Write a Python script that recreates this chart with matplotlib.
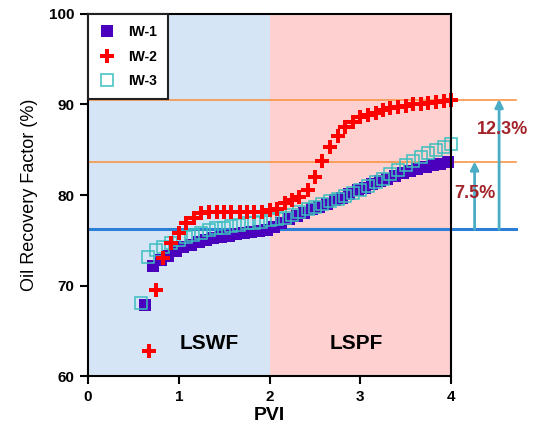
import matplotlib
matplotlib.use('Agg')
import matplotlib.pyplot as plt

plt.rcParams['font.family'] = ['Liberation Sans', 'DejaVu Sans']

# ---- data ----
iw1_x = [0.63, 0.72, 0.80, 0.88, 0.97, 1.05, 1.13, 1.22, 1.30, 1.38, 1.47, 1.55, 1.63, 1.72,
         1.80, 1.88, 1.97, 2.05, 2.13, 2.22, 2.30, 2.38, 2.47, 2.55, 2.63, 2.72, 2.80, 2.88,
         2.97, 3.05, 3.13, 3.22, 3.30, 3.38, 3.47, 3.55, 3.63, 3.72, 3.80, 3.88, 3.97]
iw1_y = [67.8, 72.2, 72.8, 73.3, 73.8, 74.2, 74.5, 74.8, 75.0, 75.2, 75.35, 75.5, 75.65, 75.8,
         75.9, 76.0, 76.1, 76.5, 76.9, 77.3, 77.7, 78.0, 78.4, 78.7, 79.0, 79.4, 79.7, 80.1,
         80.5, 80.8, 81.2, 81.5, 81.8, 82.1, 82.4, 82.7, 82.9, 83.1, 83.3, 83.45, 83.6]

iw2_x = [0.67, 0.75, 0.83, 0.92, 1.00, 1.08, 1.17, 1.25, 1.33, 1.42, 1.50, 1.58, 1.67, 1.75,
         1.83, 1.92, 2.00, 2.08, 2.17, 2.25, 2.33, 2.42, 2.50, 2.58, 2.67, 2.75, 2.83, 2.92,
         3.00, 3.08, 3.17, 3.25, 3.33, 3.42, 3.50, 3.58, 3.67, 3.75, 3.83, 3.92, 4.00]
iw2_y = [62.8, 69.5, 73.0, 74.7, 75.8, 76.9, 77.5, 78.0, 78.1, 78.1, 78.1, 78.1, 78.1, 78.1,
         78.1, 78.15, 78.3, 78.5, 79.1, 79.4, 79.8, 80.55, 82.0, 83.8, 85.3, 86.5, 87.55, 88.1,
         88.6, 88.85, 89.1, 89.4, 89.6, 89.75, 89.87, 90.0, 90.1, 90.2, 90.3, 90.4, 90.5]

iw3_x = [0.58, 0.66, 0.75, 0.83, 0.91, 1.00, 1.08, 1.16, 1.25, 1.33, 1.41, 1.50, 1.58, 1.66,
         1.75, 1.83, 1.91, 2.00, 2.08, 2.17, 2.25, 2.33, 2.42, 2.50, 2.58, 2.67, 2.75, 2.83,
         2.92, 3.00, 3.08, 3.17, 3.25, 3.33, 3.42, 3.50, 3.58, 3.67, 3.75, 3.83, 3.92, 4.00]
iw3_y = [68.1, 73.2, 73.9, 74.3, 74.65, 75.0, 75.4, 75.6, 75.85, 76.1, 76.3, 76.4, 76.55, 76.7,
         76.9, 76.95, 77.05, 77.2, 77.3, 77.5, 77.8, 78.1, 78.4, 78.7, 79.0, 79.3, 79.6, 79.9,
         80.2, 80.6, 81.0, 81.4, 81.8, 82.3, 82.8, 83.3, 83.8, 84.2, 84.6, 85.0, 85.3, 85.6]

base_rf = 76.2       # end of LSWF
iw1_final = 83.6
iw2_final = 90.5
gain_labels = ['7.5%', '12.3%']

# colours
c_iw1 = '#4B00BE'
c_iw2 = '#FF0000'
c_iw3 = '#3CBFBF'
c_blue_bg = '#D5E5F5'
c_pink_bg = '#FFD0D0'
c_orange = '#F79646'
c_base = '#2B7FD6'
c_arrow = '#4BACC6'
c_pct = '#A3232A'

fig = plt.figure(figsize=(5.35, 4.36), dpi=100)
ax = fig.add_axes([0.1645, 0.1376, 0.6785, 0.8303])

ax.axvspan(0, 2, color=c_blue_bg, zorder=0, lw=0)
ax.axvspan(2, 4, color=c_pink_bg, zorder=0, lw=0)

# reference lines extending past the axes
x_end = 4.72
ax.plot([0, x_end], [iw2_final, iw2_final], color=c_orange, lw=1.2, clip_on=False, zorder=1)
ax.plot([0, x_end], [iw1_final, iw1_final], color=c_orange, lw=1.2, clip_on=False, zorder=1)
ax.plot([0, x_end], [base_rf, base_rf], color=c_base, lw=2.2, clip_on=False, zorder=1)

ax.plot(iw1_x, iw1_y, 's', color=c_iw1, ms=8.5, mew=0, label='IW-1', zorder=3, clip_on=False)
ax.plot(iw2_x, iw2_y, 'P', color=c_iw2, ms=9.5, mew=0, label='IW-2', zorder=5, clip_on=False)
ax.plot(iw3_x, iw3_y, 's', mfc='none', mec=c_iw3, ms=9, mew=1.1, label='IW-3', zorder=4,
        clip_on=False)

# gain arrows
for xa, ytop in [(4.26, iw1_final), (4.53, iw2_final)]:
    ax.annotate('', xy=(xa, ytop + 0.1), xytext=(xa, base_rf),
                arrowprops=dict(arrowstyle='-|>', color=c_arrow, lw=2.0, mutation_scale=12,
                                shrinkA=0, shrinkB=0),
                annotation_clip=False, zorder=2)
ax.text(4.26, 80.2, gain_labels[0], color=c_pct, fontsize=13, fontweight='bold',
        ha='center', va='center', clip_on=False, zorder=6)
ax.text(4.57, 87.2, gain_labels[1], color=c_pct, fontsize=13, fontweight='bold',
        ha='center', va='center', clip_on=False, zorder=6)

ax.text(1.34, 63.6, 'LSWF', fontsize=15, fontweight='bold', ha='center', va='center')
ax.text(2.96, 63.6, 'LSPF', fontsize=15, fontweight='bold', ha='center', va='center')

ax.set_xlim(0, 4)
ax.set_ylim(60, 100)
ax.set_xticks([0, 1, 2, 3, 4])
ax.set_yticks([60, 70, 80, 90, 100])
for s in ax.spines.values():
    s.set_linewidth(1.5)
    s.set_zorder(7)
ax.tick_params(direction='out', length=6, width=1.5, labelsize=11, pad=4)
for lab in ax.get_xticklabels() + ax.get_yticklabels():
    lab.set_fontweight('bold')

ax.set_xlabel('PVI', fontsize=14, fontweight='bold', labelpad=2)
ax.set_ylabel('Oil Recovery Factor (%)', fontsize=13, labelpad=8)

leg = ax.legend(loc='upper left', borderaxespad=0, fancybox=False, framealpha=1,
                edgecolor='#222222', prop={'weight': 'bold', 'size': 10},
                handlelength=1.2, handletextpad=0.9, labelspacing=0.75, borderpad=0.8)
leg.get_frame().set_linewidth(1.5)
leg.set_zorder(10)

fig.savefig('out.png', dpi=100, facecolor='white')
